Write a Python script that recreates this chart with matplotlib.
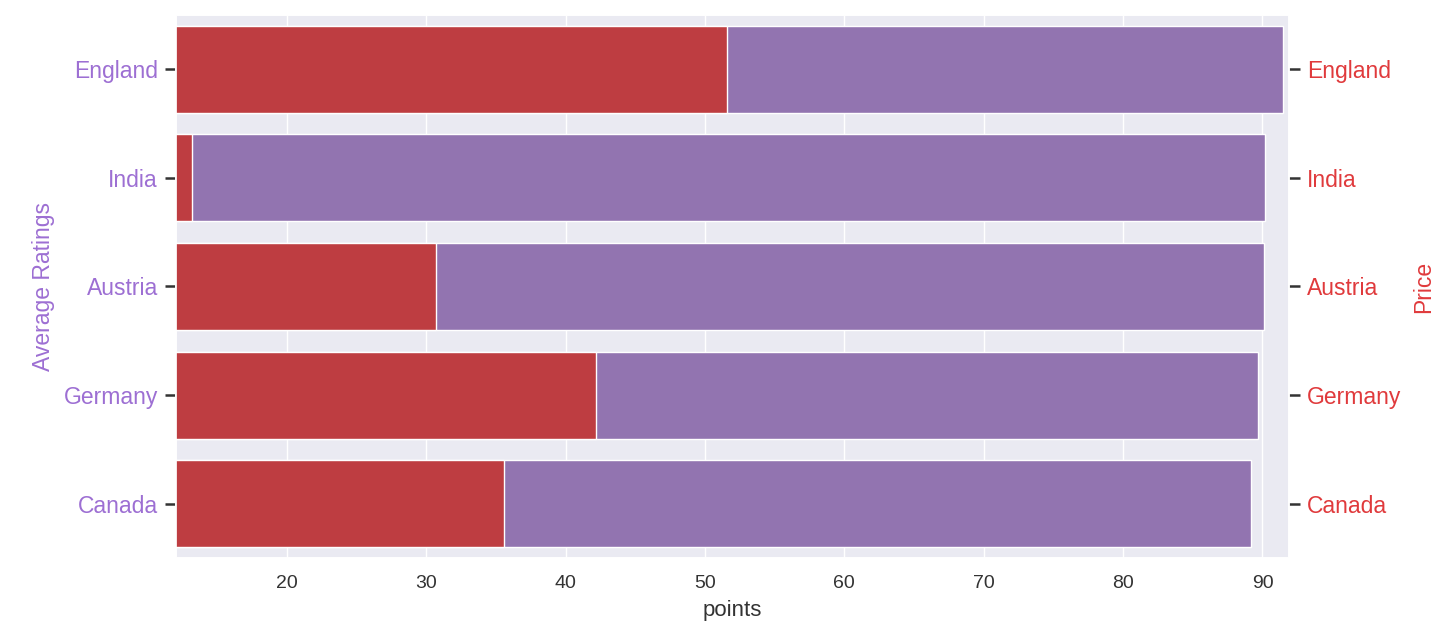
import numpy as np
import matplotlib
matplotlib.use("Agg")
import matplotlib.pyplot as plt
import seaborn as sns

# data
countries = ["England", "India", "Austria", "Germany", "Canada"]
avg_points = [91.5, 90.2, 90.1, 89.7, 89.2]
avg_price = [51.6, 13.2, 30.7, 42.2, 35.6]

sns.set_theme(style="darkgrid")
plt.rcParams["font.family"] = ["Liberation Sans", "DejaVu Sans"]

purple_bar = "#9274b0"
red_bar = "#be3d41"
purple_txt = "#9d6fd3"
red_txt = "#e03a3c"

fig = plt.figure(figsize=(14.46, 6.34), dpi=100)
ax = fig.add_axes([0.1217, 0.1199, 0.7697, 0.8565])
y = np.arange(len(countries))

ax.barh(y, avg_points, height=0.8, color=purple_bar, edgecolor="white", linewidth=1)
ax.set_xlim(12.05, 91.9)
ax.set_ylim(4.5, -0.5)
ax.grid(False, axis="y")
ax.set_yticks(y)
ax.set_yticklabels(countries, color=purple_txt, fontsize=16.5)
ax.set_ylabel("Average Ratings", color=purple_txt, fontsize=16.5, labelpad=6)
ax.set_xlabel("points", fontsize=16, color="#333333", labelpad=6)
ax.tick_params(axis="x", labelsize=14, colors="#333333", length=0, pad=12)
ax.tick_params(axis="y", length=8, width=1.8, color="#333333", pad=5)
ax.tick_params(axis="y", labelcolor=purple_txt)

# price on twin axis, drawn on top
ax2 = ax.twinx()
ax2.barh(y, avg_price, height=0.8, color=red_bar, edgecolor="white", linewidth=1)
ax2.set_ylim(4.5, -0.5)
ax2.set_yticks(y)
ax2.set_yticklabels(countries, fontsize=16.5)
ax2.grid(False)
ax2.set_ylabel("Price", color=red_txt, fontsize=16.5, labelpad=8)
ax2.tick_params(axis="y", length=8, width=1.8, color="#333333", labelcolor=red_txt, pad=5)

fig.savefig("out.png", dpi=100)
